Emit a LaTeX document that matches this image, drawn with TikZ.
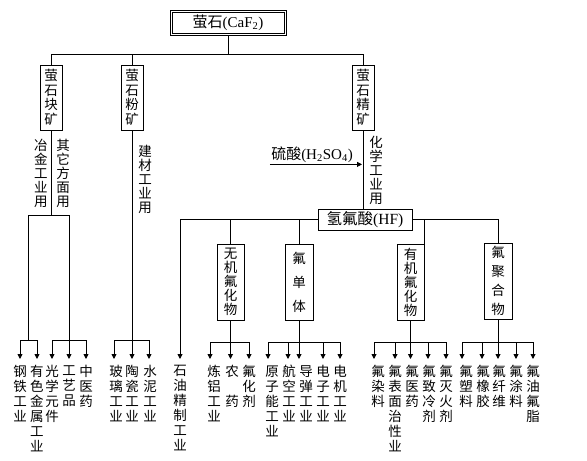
\documentclass[tikz,border=0pt]{standalone}
\usepackage{fontspec}
\setmainfont{Liberation Serif}
\newfontfamily\cjk{Noto Sans CJK SC}
\usetikzlibrary{arrows.meta}
\newcommand\tarr[3]{\draw[arr] ([xshift=#2pt]#1.north |- #3) -- ([xshift=#2pt,yshift=6pt]#1.north);}
\begin{document}
\begin{tikzpicture}[x=1pt,y=-1pt, line width=0.9pt,
  arr/.style={-{Triangle[length=5pt,width=5pt]}},
  vlab/.style={font=\cjk\fontsize{13.5}{15}\selectfont, align=center, inner sep=0pt, anchor=north},
  slab/.style={font=\cjk\fontsize{13.5}{14}\selectfont, align=center, inner sep=0pt, anchor=north},
  sbox/.style={draw, font=\cjk\fontsize{13.5}{14.5}\selectfont, align=center, inner sep=0pt, minimum width=22pt, minimum height=65pt},
  mbox/.style={draw, font=\cjk\fontsize{13.5}{14}\selectfont, align=center, inner sep=0pt, minimum width=27pt, minimum height=76pt},
]
\useasboundingbox (0,0) rectangle (587,461);

% top
\node[draw, line width=0.8pt, minimum width=116pt, minimum height=25pt, inner sep=0pt, font=\fontsize{15}{15}\selectfont] (caf) at (228,22.5) {{\cjk 萤石}(CaF\textsubscript{2})};
\draw[line width=0.6pt] ([shift={(2.2pt,-2.2pt)}]caf.north west) rectangle ([shift={(-2.2pt,2.2pt)}]caf.south east);
\node[sbox] (kuai) at (51,97.5) {萤\\石\\块\\矿};
\node[sbox] (fen) at (132,97.5) {萤\\石\\粉\\矿};
\node[sbox] (jing) at (363,97.5) {萤\\石\\精\\矿};
\coordinate (y54) at (0,54);
\draw (caf.south) -- (caf.south |- y54);
\draw (kuai.north) |- (jing.north |- y54) -- (jing.north);
\draw (fen.north) -- (fen.north |- y54);

% side labels
\node[slab] (yejin) at (41,139) {冶\\金\\工\\业\\用};
\node[slab] (qita) at (63,139) {其\\它\\方\\面\\用};
\node[slab] (jiancai) at (145,145) {建\\材\\工\\业\\用};
\node[slab] (huaxue) at (376,136) {化\\学\\工\\业\\用};

\coordinate (y215) at (0,215);
\coordinate (y340) at (0,340);
\coordinate (y342) at (0,342);

% kuai tree
\node[vlab] (g1) at (20,365) {钢\\铁\\工\\业};
\node[vlab] (g2) at (37,365) {有\\色\\金\\属\\工\\业};
\node[vlab] (g3) at (52,365) {光\\学\\元\\件};
\node[vlab] (g4) at (69,365) {工\\艺\\品};
\node[vlab] (g5) at (86,365) {中\\医\\药};
\coordinate (ka) at (28,215);
\draw (kuai.south) -- (kuai.south |- y215);
\draw (ka) -- (g4.north |- ka);
\draw (ka) -- (ka |- y340);
\draw (g1.north |- y340) -- (g2.north |- y340);
\tarr{g1}{0}{y340} \tarr{g2}{0}{y340}
\draw (g3.north |- y340) -- (g5.north |- y340);
\tarr{g3}{0}{y340} \tarr{g5}{0}{y340}
\draw[arr] (g4.north |- ka) -- ([yshift=6pt]g4.north);

% fen tree
\node[vlab] (f1) at (116,365) {玻\\璃\\工\\业};
\node[vlab] (f2) at (132,365) {陶\\瓷\\工\\业};
\node[vlab] (f3) at (150,365) {水\\泥\\工\\业};
\draw[arr] (fen.south) -- ([yshift=6pt]fen.south |- f2.north);
\draw ([xshift=-2pt]f1.north |- y340) -- ([xshift=-1pt]f3.north |- y340);
\tarr{f1}{-2}{y340} \tarr{f3}{-1}{y340}

% jing / HF
\node[font=\fontsize{15}{15}\selectfont, inner sep=1pt] (h2so4) at (312,155) {{\cjk 硫酸}(H\textsubscript{2}SO\textsubscript{4})};
\node[draw, minimum width=94pt, minimum height=21pt, inner sep=0pt, font=\fontsize{15.5}{15.5}\selectfont] (hf) at (365,219.5) {{\cjk 氢氟酸}(HF)};
\draw (jing.south) -- (jing.south |- hf.north);
\draw[arr, shorten >=1pt] (h2so4.south west) -- (h2so4.south west -| jing.south);

\node[vlab] (sy) at (180,365) {石\\油\\精\\制\\工\\业};
\draw[arr, shorten >=6pt] (hf.west) -| (sy.north);

\node[mbox] (wj) at (230.5,282) {无\\机\\氟\\化\\物};
\node[mbox, minimum width=28pt] (dt) at (299,282) {氟\\[10pt]单\\[10pt]体};
\node[mbox] (yj) at (410.5,282) {有\\机\\氟\\化\\物};
\node[mbox, minimum width=28pt] (jh) at (498,281) {氟\\[5pt]聚\\[5pt]合\\[5pt]物};
\draw (wj.north) -- (wj.north |- hf.west);
\draw (dt.north) -- (dt.north |- hf.west);
\draw (hf.east) -| (jh.north);
\draw (yj.north east) -- (yj.north east |- hf.east);

% wj tree
\node[vlab] (w1) at (214,365) {炼\\铝\\工\\业};
\node[vlab] (w2) at (232,365) {农\\[15pt]药};
\node[vlab] (w3) at (249,365) {氟\\化\\剂};
\draw[arr] (wj.south) -- ([yshift=6pt]wj.south |- w2.north);
\draw ([xshift=-4pt]w1.north |- y342) -- (w3.north |- y342);
\tarr{w1}{-4}{y342} \tarr{w3}{0}{y342}

% dt tree
\node[vlab] (d1) at (272,365) {原\\子\\能\\工\\业};
\node[vlab] (d2) at (289,365) {航\\空\\工\\业};
\node[vlab] (d3) at (306,365) {导\\弹\\工\\业};
\node[vlab] (d4) at (323,365) {电\\子\\工\\业};
\node[vlab] (d5) at (340,365) {电\\机\\工\\业};
\draw[arr] (dt.south) -- ([yshift=6pt]dt.south |- d3.north);
\draw ([xshift=-4pt]d1.north |- y342) -- (d5.north |- y342);
\tarr{d1}{-4}{y342} \tarr{d2}{-1}{y342} \tarr{d4}{0}{y342} \tarr{d5}{0}{y342}

% yj tree
\node[vlab] (y1) at (378,365) {氟\\染\\料};
\node[vlab] (y2) at (395,365) {氟\\表\\面\\治\\性\\业};
\node[vlab] (y3) at (412,365) {氟\\医\\药};
\node[vlab] (y4) at (429,365) {氟\\致\\冷\\剂};
\node[vlab] (y5) at (446,365) {氟\\灭\\火\\剂};
\draw[arr] (yj.south) -- ([yshift=6pt]yj.south |- y3.north);
\draw ([xshift=-4pt]y1.north |- y342) -- (y5.north |- y342);
\tarr{y1}{-4}{y342} \tarr{y2}{0}{y342} \tarr{y4}{-1}{y342} \tarr{y5}{0}{y342}

% jh tree
\node[vlab] (j1) at (466,365) {氟\\塑\\料};
\node[vlab] (j2) at (483,365) {氟\\橡\\胶};
\node[vlab] (j3) at (499,365) {氟\\纤\\维};
\node[vlab] (j4) at (516,365) {氟\\涂\\料};
\node[vlab] (j5) at (533,365) {氟\\油\\氟\\脂};
\draw[arr] (jh.south) -- ([yshift=6pt]jh.south |- j3.north);
\draw ([xshift=-4pt]j1.north |- y342) -- (j5.north |- y342);
\tarr{j1}{-4}{y342} \tarr{j2}{-1}{y342} \tarr{j4}{0}{y342} \tarr{j5}{0}{y342}
\end{tikzpicture}
\end{document}
